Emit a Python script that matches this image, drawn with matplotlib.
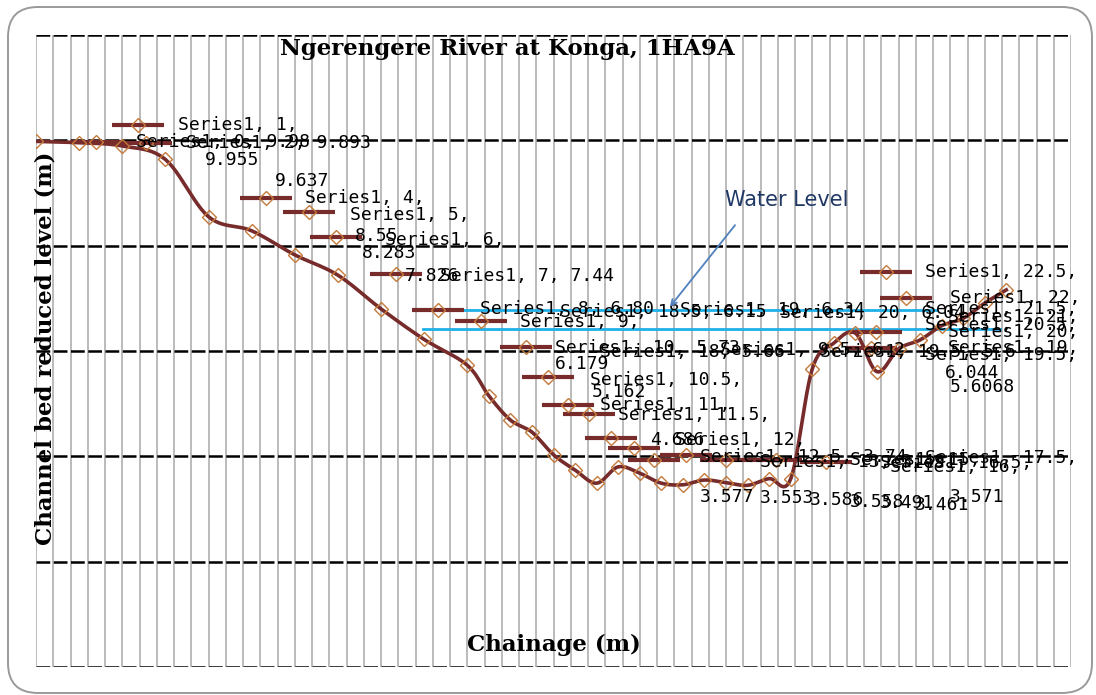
#Cross section of the Ngerengere River at Konga (1HA9A), Excel style chart with cluttered data labels
import numpy as np
import matplotlib
matplotlib.use("Agg")
import matplotlib.pyplot as plt
from matplotlib.patches import FancyBboxPatch

#chainage (m) and channel bed level (m) of the surveyed points
chainage = [0, 1, 2, 3, 4, 5, 6, 7, 8, 9, 10, 10.5, 11, 11.5, 12, 12.5, 13, 13.5, 14, 14.5,
            15, 15.5, 16, 16.5, 17, 17.5, 18, 18.5, 19, 19.5, 20, 20.5, 21, 21.5, 22, 22.5]
bed_level = [9.98, 9.955, 9.893, 9.637, 8.55, 8.283, 7.826, 7.44, 6.80, 6.22, 5.73, 5.15, 4.69, 4.46,
             4.03, 3.74, 3.49, 3.80, 3.68, 3.49, 3.46, 3.55, 3.50, 3.45, 3.577, 3.571, 5.66, 6.15,
             6.34, 5.607, 6.04, 6.21, 6.48, 6.62, 6.91, 7.16]

#the two water level lines (level, start chainage, end chainage)
water_levels = [6.78, 6.42]
water_start = [9.67, 8.97]
water_end = [20.89, 22.35]

#legend keys of the dragged data labels (left end chainage, level)
key_x = [1.76, 0.79, 1.95, 4.73, 5.73, 6.35, 7.74, 8.72, 9.72, 10.76, 11.27, 11.73, 12.22, 12.73,
         13.26, 13.73, 14.47, 15.40, 16.56, 17.72, 19.11, 19.57, 18.88, 18.76]
key_y = [10.29, 9.97, 9.95, 8.90, 8.64, 8.16, 7.46, 6.78, 6.57, 6.08, 5.51, 4.97, 4.80, 4.35,
         4.16, 3.93, 4.03, 3.93, 3.93, 3.89, 7.50, 7.01, 6.36, 6.06]

#data label texts (chainage, level, text)
label_x = [3.29, 2.32, 3.48, 3.92, 5.54, 6.24, 7.28, 7.40, 8.09, 7.56, 8.56, 9.37,
           10.30, 11.22, 12.15, 14.93, 17.25, 20.61, 21.14, 20.61, 21.14, 21.14, 20.61,
           12.03, 13.08, 15.86, 18.18, 12.03, 12.85, 12.89, 13.08, 13.50, 14.24, 14.82,
           15.40, 16.79, 18.87, 19.57, 20.61, 19.80,
           15.40, 16.79, 17.95, 18.87, 19.57, 20.38, 21.19,
           20.61, 21.19, 21.08, 21.19]
label_y = [10.29, 9.97, 9.95, 9.63, 9.23, 8.90, 8.58, 8.18, 8.11, 7.86, 7.42, 7.42,
           6.80, 6.55, 6.74, 6.78, 6.72, 6.80, 6.65, 6.50, 6.36, 6.05, 5.92,
           6.06, 5.98, 6.02, 5.98, 5.75, 5.45, 5.22, 4.97, 4.78, 4.31, 4.31,
           3.99, 3.89, 3.93, 3.87, 3.97, 3.80,
           3.23, 3.21, 3.17, 3.13, 3.11, 3.08, 3.23,
           7.50, 7.01, 5.58, 5.32]
label_text = ["Series1, 1,", "Series1, 0, 9.98", "Series1, 2, 9.893", "9.955", "9.637",
              "Series1, 4,", "Series1, 5,", "8.55", "Series1, 6,", "8.283", "7.826", "Series1, 7, 7.44",
              "Series1, 8, 6.80", "Series1, 9,", "Series1, 18.5, 6.15", "Series1, 19, 6.34",
              "Series1, 20, 6.04", "Series1, 21.5,", "Series1, 21,", "Series1, 20.5,", "Series1, 20,",
              "Series1, 19,", "Series1, 19.5,",
              "Series1, 10, 5.73", "Series1, 18, 5.66", "Series1, 9.5, 6.2", "Series1, 19.5, 5.6",
              "6.179", "Series1, 10.5,", "5.162", "Series1, 11,", "Series1, 11.5,", "4.686", "Series1, 12,",
              "Series1, 12.5, 3.74", "Series1, 13, 3.49", "Series1, 15,", "Series1, 16.5,", "Series1, 17.5,",
              "Series1, 16,",
              "3.577", "3.553", "3.586", "3.558", "3.491", "3.461", "3.571",
              "Series1, 22.5,", "Series1, 22,", "6.044", "5.6068"]

line_color = "#772B2B"
marker_color = "#C47A3A"


#Catmull-Rom curve through the points, this is how Excel draws a smoothed line
def smooth(xs, ys, n=12):
    px = np.array(xs, dtype=float)
    py = np.array(ys, dtype=float)
    px = np.concatenate([[px[0]], px, [px[-1]]])
    py = np.concatenate([[py[0]], py, [py[-1]]])
    outx = []
    outy = []
    t = np.linspace(0, 1, n, endpoint=False)
    for i in range(1, len(px) - 2):
        for arr, out in ((px, outx), (py, outy)):
            p0, p1, p2, p3 = arr[i - 1], arr[i], arr[i + 1], arr[i + 2]
            out.extend(0.5 * ((2 * p1) + (-p0 + p2) * t + (2 * p0 - 5 * p1 + 4 * p2 - p3) * t ** 2
                              + (-p0 + 3 * p1 - 3 * p2 + p3) * t ** 3))
    outx.append(px[-2])
    outy.append(py[-2])
    return outx, outy


fig = plt.figure(figsize=(10.96, 6.95), dpi=100)
fig.patch.set_facecolor("white")

#rounded chart area border
border = FancyBboxPatch((0.08, 0.02), 10.84, 6.86, boxstyle="round,pad=0,rounding_size=0.3",
                        transform=fig.dpi_scale_trans, fill=False, edgecolor="#9A9A9A", linewidth=1.4)
fig.patches.append(border)

ax = fig.add_axes([36 / 1096, 28 / 695, 1035 / 1096, 632 / 695])
ax.set_xlim(0, 24)
ax.set_ylim(0, 12)
for s in ax.spines.values():
    s.set_visible(False)
ax.set_xticks(np.linspace(0, 24, 61))
ax.set_yticks(np.arange(0, 13, 2))
ax.tick_params(length=0, labelbottom=False, labelleft=False)
ax.set_axisbelow(True)
ax.grid(axis="x", color="#BBBBBB", linewidth=1.4)
ax.grid(axis="y", color="black", linewidth=1.8, linestyle=(0, (5.5, 1.4)))

#water level lines
for lvl, x0, x1 in zip(water_levels, water_start, water_end):
    ax.plot([x0, x1], [lvl, lvl], color="#20B0E8", linewidth=2, zorder=2)

#legend keys of the data labels
for kx, ky in zip(key_x, key_y):
    ax.plot([kx, kx + 1.2], [ky, ky], color=line_color, linewidth=3, zorder=3, solid_capstyle="butt")
    ax.plot(kx + 0.6, ky, "D", markersize=7.5, markerfacecolor="none", markeredgecolor=marker_color,
            markeredgewidth=1.0, zorder=4)

#data label texts
for lx, ly, txt in zip(label_x, label_y, label_text):
    ax.text(lx, ly, txt, fontsize=13, family="DejaVu Sans Mono", ha="left", va="center",
            color="black", zorder=5)

#the bed profile
sx, sy = smooth(chainage, bed_level)
ax.plot(sx, sy, color=line_color, linewidth=2.6, zorder=3)
ax.plot(chainage, bed_level, "D", markersize=7.5, markerfacecolor="none", markeredgecolor=marker_color,
        markeredgewidth=1.0, zorder=4)

#water level callout
ax.text(17.41, 8.87, "Water Level", fontsize=15, color="#1F3864", ha="center", va="center", zorder=6)
ax.annotate("", xy=(14.70, 6.84), xytext=(16.21, 8.39), zorder=6,
            arrowprops=dict(arrowstyle="->", color="#4F81BD", linewidth=1.3, shrinkA=0, shrinkB=0))

#titles
ax.text(0.455, 0.995, "Ngerengere River at Konga, 1HA9A", transform=ax.transAxes, ha="center",
        va="top", fontsize=16.5, fontweight="bold", family="DejaVu Serif", zorder=6)
ax.text(0.5, 0.035, "Chainage (m)", transform=ax.transAxes, ha="center", va="center",
        fontsize=16.5, fontweight="bold", family="DejaVu Serif", zorder=6)
ax.text(0.009, 0.505, "Channel bed reduced level (m)", transform=ax.transAxes, ha="center",
        va="center", rotation=90, fontsize=16.5, fontweight="bold", family="DejaVu Serif", zorder=6)

fig.savefig("out.png", dpi=100)
